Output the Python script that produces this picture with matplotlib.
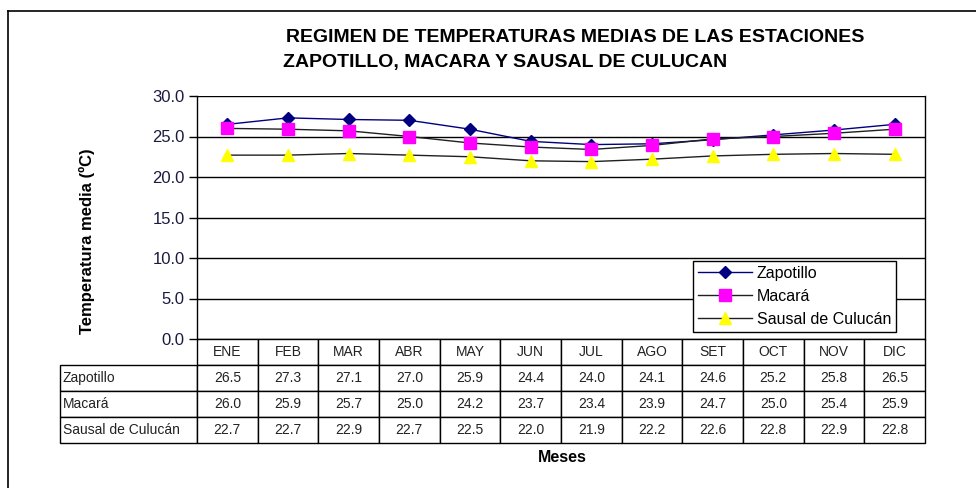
import matplotlib
matplotlib.use("Agg")
import matplotlib.pyplot as plt
from matplotlib.lines import Line2D

plt.rcParams['font.family'] = ['Liberation Sans', 'DejaVu Sans']

meses = ["ENE", "FEB", "MAR", "ABR", "MAY", "JUN", "JUL", "AGO", "SET", "OCT", "NOV", "DIC"]
zapotillo = [26.5, 27.3, 27.1, 27.0, 25.9, 24.4, 24.0, 24.1, 24.6, 25.2, 25.8, 26.5]
macara = [26.0, 25.9, 25.7, 25.0, 24.2, 23.7, 23.4, 23.9, 24.7, 25.0, 25.4, 25.9]
sausal = [22.7, 22.7, 22.9, 22.7, 22.5, 22.0, 21.9, 22.2, 22.6, 22.8, 22.9, 22.8]
estaciones = ["Zapotillo", "Macará", "Sausal de Culucán"]

W, H = 976, 488
fig = plt.figure(figsize=(W / 100, H / 100), dpi=100)

# outer frame (only left and top visible in the original)
fig.add_artist(Line2D([8 / W, 8 / W], [0, 1 - 11 / H], color="black", lw=1.2))
fig.add_artist(Line2D([8 / W, 1], [1 - 11 / H, 1 - 11 / H], color="black", lw=1.2))

x0, x1, y0, y1 = 197, 925, 96, 339
ax = fig.add_axes([x0 / W, 1 - y1 / H, (x1 - x0) / W, (y1 - y0) / H])

x = list(range(len(meses)))
ax.plot(x, zapotillo, color="#000080", lw=1, marker="D", ms=6, mfc="#000080", mec="#000080", label=estaciones[0])
ax.plot(x, macara, color="#202020", lw=1, marker="s", ms=8, mfc="#ff00ff", mec="#ff00ff", label=estaciones[1])
ax.plot(x, sausal, color="#202020", lw=1, marker="^", ms=8, mfc="#ffff00", mec="#ffff00", label=estaciones[2])

ax.set_xlim(-0.5, len(meses) - 0.5)
ax.set_ylim(0, 30)
ax.set_yticks([0, 5, 10, 15, 20, 25, 30])
ax.set_yticklabels(["%.1f" % v for v in [0, 5, 10, 15, 20, 25, 30]], fontsize=12, color="#1a1a40")
ax.tick_params(axis="y", length=6, width=1, pad=3)
ax.set_xticks([])
ax.grid(axis="y", color="black", lw=1)
ax.set_axisbelow(True)
for s in ["left", "right", "top"]:
    ax.spines[s].set_linewidth(1)
ax.spines["top"].set_visible(False)
ax.spines["bottom"].set_visible(False)

leg = ax.legend(loc="upper left", bbox_to_anchor=((693 - x0) / (x1 - x0), 1 - (261 - y0) / (y1 - y0)),
                fontsize=11.5, frameon=True, fancybox=False, edgecolor="black", framealpha=1,
                borderpad=0.3, labelspacing=0.5, handlelength=3.4, handletextpad=0.3, borderaxespad=0)
leg.get_frame().set_linewidth(1)

# data table below the plot
cell_text = [[""] + meses]
for name, vals in zip(estaciones, [zapotillo, macara, sausal]):
    cell_text.append([name] + ["%.1f" % v for v in vals])
col_w = [137] + [(x1 - x0) / 12] * 12
tb = ax.table(cellText=cell_text, colWidths=col_w, cellLoc="center",
              bbox=[(60 - x0) / (x1 - x0), -(443 - y1) / (y1 - y0), (x1 - 60) / (x1 - x0), (443 - y1) / (y1 - y0)])
tb.auto_set_font_size(False)
for (r, c), cell in tb.get_celld().items():
    cell.set_linewidth(1)
    cell.get_text().set_fontsize(10)
    cell.get_text().set_color("#222222")
    if c == 0:
        cell.get_text().set_ha("left")
        cell.PAD = 0.02
    if r == 0 and c == 0:
        cell.visible_edges = ""

fig.text(286 / W, 1 - 37 / H, "REGIMEN DE TEMPERATURAS MEDIAS DE LAS ESTACIONES",
         fontsize=14, fontweight="bold", ha="left", va="center")
fig.text(283 / W, 1 - 62 / H, "ZAPOTILLO, MACARA Y SAUSAL DE CULUCAN",
         fontsize=14, fontweight="bold", ha="left", va="center")
fig.text(87 / W, 1 - 241 / H, "Temperatura media (ºC)", rotation=90, fontsize=12,
         fontweight="bold", ha="center", va="center")
fig.text(562 / W, 1 - 458 / H, "Meses", fontsize=11.5, fontweight="bold", ha="center", va="center")

fig.savefig("out.png", dpi=100)
